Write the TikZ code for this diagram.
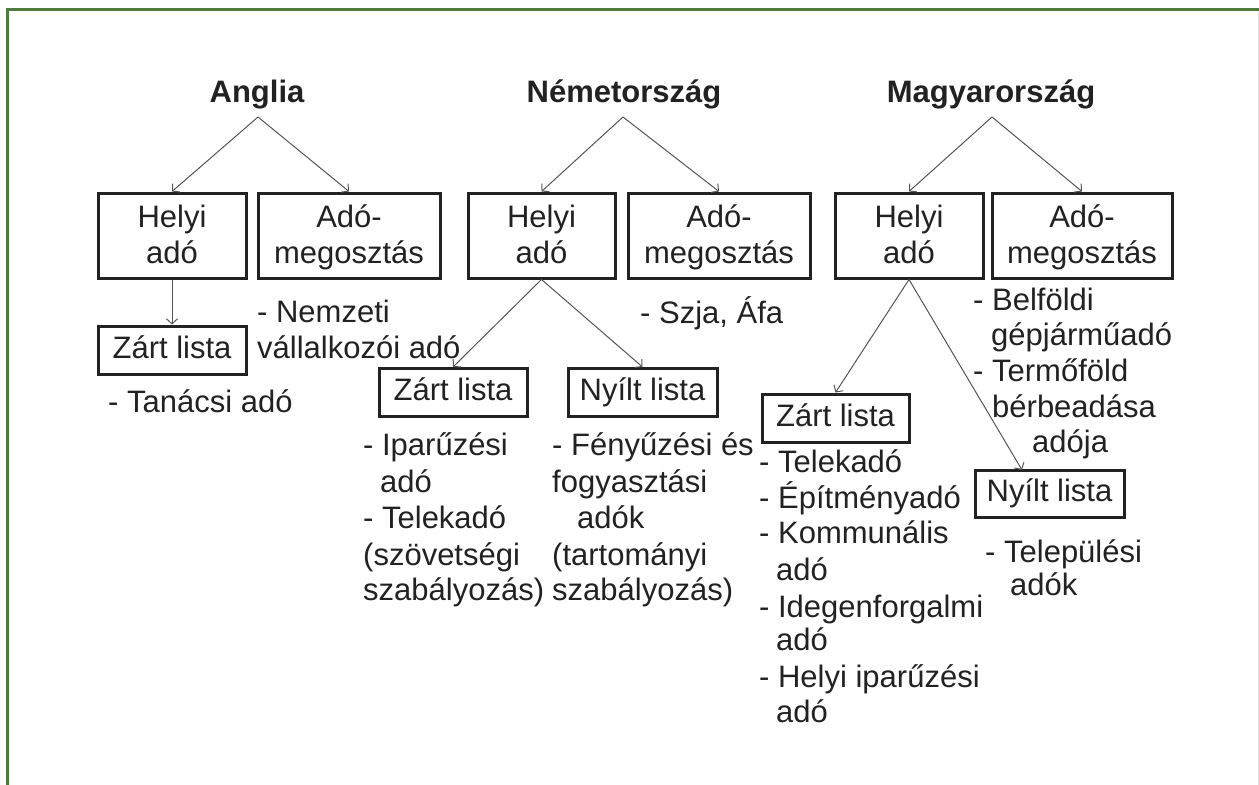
\documentclass[tikz,border=0pt]{standalone}
\usepackage{fontspec}
\setmainfont{Liberation Sans}
\usetikzlibrary{arrows.meta}
\definecolor{frameg}{RGB}{80,122,62}
\definecolor{txtc}{RGB}{34,34,34}
\definecolor{arrc}{RGB}{85,85,85}
\newcommand{\twoline}[2]{\vphantom{Ág}#1\\\vphantom{g}#2}
\newcommand{\oneline}[1]{\vphantom{Zy}#1}
\begin{document}
\begin{tikzpicture}[x=1bp,y=-1bp,
  every node/.style={text=txtc, font=\fontsize{31bp}{36bp}\selectfont},
  ttl/.style={anchor=base, inner sep=0pt, font=\fontsize{31bp}{36bp}\selectfont\bfseries},
  bx/.style={draw=txtc, line width=3bp, align=center, inner sep=0pt, minimum height=85bp},
  lbx/.style={draw=txtc, line width=3bp, inner sep=0pt, minimum height=48bp},
  itm/.style={anchor=base west, inner sep=0pt},
  arr/.style={draw=arrc, line width=1bp, -{Straight Barb[length=5bp,width=11bp]}},
  frm/.style={draw=frameg, line width=3bp}]
\useasboundingbox (0,0) rectangle (1259,785);
\fill[white] (0,0) rectangle (1259,785);
\draw[frm] (7,785) -- (7,10) -- (1259,10);
\draw[gray!25, line width=1bp] (1258,12) -- (1258,785);

% titles
\node[ttl] (tA) at (257,103) {Anglia};
\node[ttl] (tN) at (624,103) {Németország};
\node[ttl] (tM) at (991,103) {Magyarország};
\coordinate (pA) at (258,117);
\coordinate (pN) at (623,117);
\coordinate (pM) at (992,117);

% boxes
\node[bx, minimum width=148bp] (HA) at (172,235.5) {\twoline{Helyi}{adó}};
\node[bx, minimum width=182bp] (AA) at (349,235.5) {\twoline{Adó-}{megosztás}};
\node[lbx, minimum width=148bp] (ZA) at (172,350) {\oneline{Zárt lista}};

\node[bx, minimum width=147bp] (HN) at (541.5,235.5) {\twoline{Helyi}{adó}};
\node[bx, minimum width=182bp] (AN) at (719,235.5) {\twoline{Adó-}{megosztás}};
\node[lbx, minimum width=148bp] (ZN) at (453,392.5) {\oneline{Zárt lista}};
\node[lbx, minimum width=149bp] (NN) at (642.5,392.5) {\oneline{Nyílt lista}};

\node[bx, minimum width=148bp] (HM) at (909,235.5) {\twoline{Helyi}{adó}};
\node[bx, minimum width=180bp] (AM) at (1082,235.5) {\twoline{Adó-}{megosztás}};
\node[lbx, minimum width=147bp] (ZM) at (835.5,418) {\oneline{Zárt lista}};
\node[lbx, minimum width=149bp, minimum height=47bp] (NM) at (1049.5,493.5) {\oneline{Nyílt lista}};
\coordinate (NMt) at (1022,470);

% arrows
\draw[arr] (pA) -- (HA.north);
\draw[arr] (pA) -- (AA.north);
\draw[arr] (HA.south) -- (ZA.north);
\draw[arr] (pN) -- (HN.north);
\draw[arr] (pN) -- (AN.north);
\draw[arr] (HN.south) -- (ZN.north);
\draw[arr] (HN.south) -- (NN.north);
\draw[arr] (pM) -- (HM.north);
\draw[arr] (pM) -- (AM.north);
\draw[arr] (HM.south) -- (ZM.north);
\draw[arr] (HM.south) -- (NMt);

% Anglia texts
\node[itm] (a1) at (257,322) {- Nemzeti};
\node[itm] (a2) at (257,358) {vállalkozói adó};
\node[itm] (a3) at (108,412) {- Tanácsi adó};

% Nemetorszag texts
\node[itm] (n0) at (640,323) {- Szja, Áfa};
\node[itm] (n1) at (363,455) {- Iparűzési};
\node[itm] (n2) at (380,492) {adó};
\node[itm] (n3) at (363,528) {- Telekadó};
\node[itm] (n4) at (363,565) {(szövetségi};
\node[itm] (n5) at (363,600) {szabályozás)};
\node[itm] (m1) at (552,455) {- Fényűzési és};
\node[itm] (m2) at (552,492) {fogyasztási};
\node[itm] (m3) at (577,528) {adók};
\node[itm] (m4) at (552,565) {(tartományi};
\node[itm] (m5) at (552,600) {szabályozás)};

% Magyarorszag texts
\node[itm] (h1) at (973,310) {- Belföldi};
\node[itm] (h2) at (991,345) {gépjárműadó};
\node[itm] (h3) at (973,381) {- Termőföld};
\node[itm] (h4) at (992,417) {bérbeadása};
\node[itm] (h5) at (1032,452) {adója};
\node[itm] (z1) at (759,472) {- Telekadó};
\node[itm] (z2) at (759,508) {- Építményadó};
\node[itm] (z3) at (759,543) {- Kommunális};
\node[itm] (z4) at (776,580) {adó};
\node[itm] (z5) at (759,617) {- Idegenforgalmi};
\node[itm] (z6) at (776,650) {adó};
\node[itm] (z7) at (759,687) {- Helyi iparűzési};
\node[itm] (z8) at (776,722) {adó};
\node[itm] (y1) at (985,562) {- Települési};
\node[itm] (y2) at (1010,595) {adók};
\end{tikzpicture}
\end{document}
